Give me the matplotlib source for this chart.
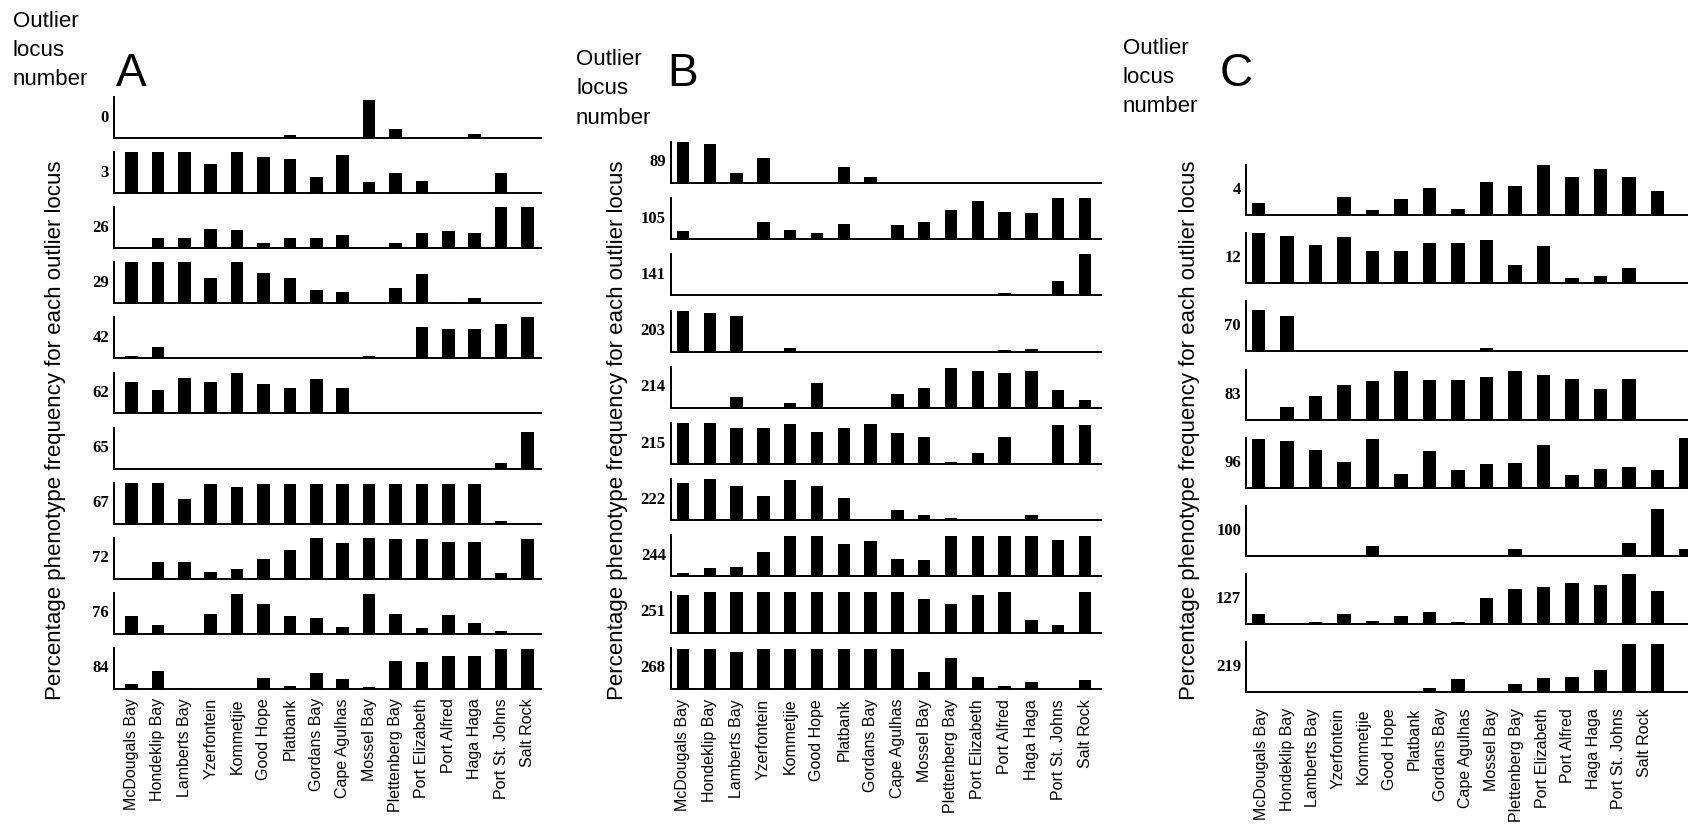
import matplotlib
matplotlib.use("Agg")
import matplotlib.pyplot as plt
import numpy as np

plt.rcParams["font.family"] = ["Liberation Sans", "DejaVu Sans"]

# Sampling sites, west coast to east coast
sites = ["McDougals Bay", "Hondeklip Bay", "Lamberts Bay", "Yzerfontein", "Kommetjie",
         "Good Hope", "Platbank", "Gordans Bay", "Cape Agulhas", "Mossel Bay",
         "Plettenberg Bay", "Port Elizabeth", "Port Alfred", "Haga Haga",
         "Port St. Johns", "Salt Rock"]

# Panel A: phenotype frequency (%) per outlier locus
a_locus_0 = [0, 0, 0, 0, 0, 0, 7, 0, 0, 93, 22, 0, 0, 10, 0, 0]
a_locus_3 = [100, 100, 100, 71, 100, 87, 82, 39, 93, 27, 48, 29, 0, 0, 48, 0]
a_locus_26 = [0, 26, 24, 46, 45, 12, 26, 26, 33, 0, 13, 36, 42, 36, 100, 100]
a_locus_29 = [100, 100, 100, 62, 100, 73, 62, 33, 27, 0, 37, 71, 4, 14, 0, 0]
a_locus_42 = [6, 29, 0, 0, 0, 0, 0, 0, 0, 6, 0, 76, 72, 71, 84, 100]
a_locus_62 = [76, 57, 87, 76, 100, 72, 63, 85, 63, 0, 0, 0, 0, 0, 0, 0]
a_locus_65 = [0, 0, 0, 0, 0, 0, 0, 0, 0, 0, 0, 0, 0, 0, 14, 89]
a_locus_67 = [100, 100, 61, 98, 89, 98, 97, 97, 97, 97, 97, 97, 97, 97, 6, 0]
a_locus_72 = [0, 40, 40, 17, 23, 48, 71, 100, 88, 100, 98, 98, 90, 90, 15, 98]
a_locus_76 = [43, 22, 0, 48, 98, 72, 43, 39, 18, 97, 49, 15, 47, 26, 6, 0]
a_locus_84 = [11, 43, 2, 0, 0, 26, 8, 38, 25, 4, 68, 67, 81, 81, 97, 97]

# Panel B
b_locus_89 = [100, 94, 24, 61, 0, 0, 38, 14, 0, 0, 0, 0, 0, 0, 0, 0]
b_locus_105 = [21, 0, 0, 41, 22, 14, 38, 0, 34, 42, 72, 93, 66, 63, 100, 100]
b_locus_141 = [0, 0, 0, 0, 0, 0, 0, 0, 0, 0, 0, 0, 7, 0, 34, 100]
b_locus_203 = [100, 95, 86, 0, 10, 0, 0, 0, 0, 0, 0, 0, 5, 6, 0, 0]
b_locus_214 = [0, 0, 26, 0, 11, 61, 0, 0, 33, 49, 98, 90, 86, 90, 43, 18]
b_locus_215 = [100, 100, 89, 88, 98, 77, 87, 97, 76, 67, 6, 26, 67, 0, 94, 94]
b_locus_222 = [90, 100, 84, 58, 98, 84, 54, 0, 24, 12, 6, 0, 0, 12, 0, 0]
b_locus_244 = [8, 21, 23, 59, 98, 98, 78, 86, 43, 41, 98, 98, 98, 98, 89, 98]
b_locus_251 = [91, 99, 99, 99, 99, 99, 99, 99, 99, 83, 69, 91, 100, 30, 18, 100]
b_locus_268 = [98, 98, 90, 98, 98, 98, 98, 98, 98, 41, 75, 29, 6, 16, 0, 22]

# Panel C
c_locus_4 = [24, 0, 0, 36, 10, 33, 55, 13, 66, 58, 100, 76, 92, 77, 48, 0]
c_locus_12 = [100, 95, 76, 92, 64, 64, 80, 80, 87, 36, 74, 11, 15, 31, 0, 0]
c_locus_70 = [82, 71, 0, 0, 0, 0, 0, 0, 7, 0, 0, 0, 0, 0, 0, 0]
c_locus_83 = [0, 26, 47, 69, 77, 98, 80, 80, 86, 97, 90, 82, 62, 82, 0, 0]
c_locus_96 = [97, 93, 75, 51, 98, 28, 73, 35, 48, 49, 86, 25, 37, 41, 36, 99]
c_locus_100 = [0, 0, 0, 0, 20, 0, 0, 0, 0, 15, 0, 0, 0, 26, 95, 14]
c_locus_127 = [21, 0, 5, 21, 7, 17, 24, 5, 52, 70, 75, 83, 79, 100, 67, 0]
c_locus_219 = [0, 0, 0, 0, 0, 0, 8, 27, 0, 17, 29, 30, 45, 96, 96, 0]

panel_a = [("0", a_locus_0), ("3", a_locus_3), ("26", a_locus_26), ("29", a_locus_29),
           ("42", a_locus_42), ("62", a_locus_62), ("65", a_locus_65), ("67", a_locus_67),
           ("72", a_locus_72), ("76", a_locus_76), ("84", a_locus_84)]
panel_b = [("89", b_locus_89), ("105", b_locus_105), ("141", b_locus_141),
           ("203", b_locus_203), ("214", b_locus_214), ("215", b_locus_215),
           ("222", b_locus_222), ("244", b_locus_244), ("251", b_locus_251),
           ("268", b_locus_268)]
panel_c = [("4", c_locus_4), ("12", c_locus_12), ("70", c_locus_70), ("83", c_locus_83),
           ("96", c_locus_96), ("100", c_locus_100), ("127", c_locus_127),
           ("219", c_locus_219)]

W, H = 1688, 826
fig = plt.figure(figsize=(W / 100, H / 100), dpi=100)
fig.patch.set_facecolor("white")


def fx(px):
    return px / W


def fy(py):
    return 1 - py / H


ylabel = "Percentage phenotype frequency for each outlier locus"
n = len(sites)
pos = np.arange(n)


def draw_panel(rows, left, right, x0, step, base0, pitch, height,
               lab_x0, lab_step, lab_top):
    xlo = (left - x0) / step
    xhi = (right - x0) / step
    for i, (name, vals) in enumerate(rows):
        base = base0 + i * pitch
        ax = fig.add_axes([fx(left), fy(base), fx(right - left), height / H])
        ax.bar(pos, vals, width=0.47, color="black", linewidth=0)
        ax.set_xlim(xlo, xhi)
        ax.set_ylim(0, 100)
        for s in ("top", "right"):
            ax.spines[s].set_visible(False)
        for s in ("left", "bottom"):
            ax.spines[s].set_linewidth(1.4)
            ax.spines[s].set_color("black")
        ax.set_xticks([])
        ax.set_yticks([])
        ax.patch.set_alpha(0)
        ax.annotate(name, xy=(0, 0.5), xycoords="axes fraction", xytext=(-5, 0),
                    textcoords="offset pixels", ha="right", va="center",
                    fontsize=12, fontweight="bold", family="Liberation Serif")
    # site names along the bottom
    lab_left = lab_x0 - 0.5 * lab_step
    lab_w = n * lab_step
    lab = fig.add_axes([fx(lab_left), fy(lab_top), fx(lab_w), 0.001])
    lab.set_xlim(-0.5, n - 0.5)
    lab.set_xticks(pos)
    lab.set_xticklabels(sites, rotation=90, fontsize=11.5, va="top", ha="center")
    lab.tick_params(axis="x", length=0, pad=0)
    lab.set_yticks([])
    for s in lab.spines.values():
        s.set_visible(False)
    lab.patch.set_alpha(0)


draw_panel(panel_a, 114, 541, 131.5, 26.4, 138, 55.1, 41, 131.5, 26.4, 698)
draw_panel(panel_b, 670.7, 1101, 683, 26.8, 183, 56.2, 41, 683, 26.8, 699)
draw_panel(panel_c, 1246, 1702, 1258.5, 28.5, 215, 68.2, 50, 1261.7, 25.5, 708)

# axis titles and panel headings
for x in (56, 617, 1190):
    fig.text(fx(x), fy(430), ylabel, rotation=90, ha="center", va="center", fontsize=16)

for x, ys in ((13, (27, 56, 85)), (576, (65, 94, 124)), (1123, (54, 83, 112))):
    for word, y in zip(("Outlier", "locus", "number"), ys):
        fig.text(fx(x), fy(y), word, ha="left", va="baseline", fontsize=16)

for letter, x in (("A", 116), ("B", 667), ("C", 1220)):
    fig.text(fx(x), fy(86), letter, ha="left", va="baseline", fontsize=33)

fig.savefig("out.png", dpi=100)
